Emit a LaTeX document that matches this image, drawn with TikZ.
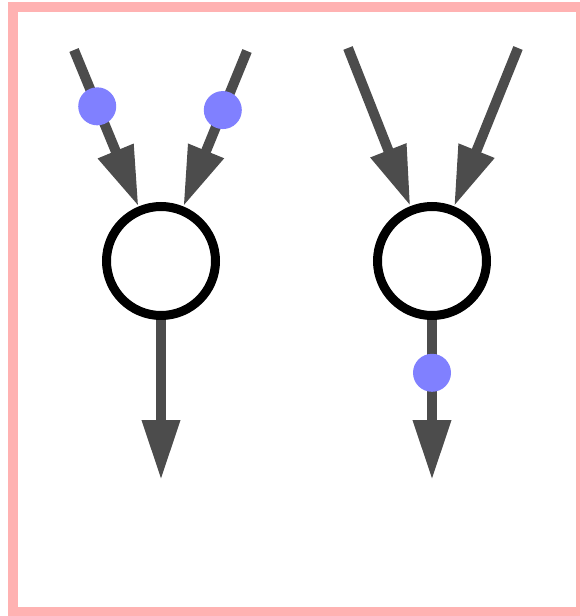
\documentclass[tikz,border=0pt]{standalone}
\usetikzlibrary{arrows.meta}

\begin{document}
\begin{tikzpicture}[x=1pt,y=-1pt]
\tikzset{
  opnode/.style={circle,draw=black,line width=9pt,minimum size=109pt,inner sep=0pt,fill=white},
  wire/.style={-{Triangle[length=60pt,width=36pt]},line width=10pt,draw=black!70},
  tokendot/.style={circle,fill=blue!50,minimum size=38pt,inner sep=0pt}
}
\useasboundingbox (0,0) rectangle (580,616);
\draw[red!30,line width=10pt] (13,7) rectangle (581,612);
\node[opnode] (n_L) at (161,261) {};
\node[opnode] (n_R) at (432,261) {};
\coordinate (in_L1) at (74,50);
\coordinate (in_L2) at (247,51);
\coordinate (in_R1) at (348,48);
\coordinate (in_R2) at (518,48);
\coordinate (out_L) at (161,480);
\coordinate (out_R) at (432,480);
\draw[wire] (in_L1) -- node[tokendot,pos=0.36] {} (n_L);
\draw[wire] (in_L2) -- node[tokendot,pos=0.38] {} (n_L);
\draw[wire] (in_R1) -- (n_R);
\draw[wire] (in_R2) -- (n_R);
\draw[wire] (n_L) -- (out_L);
\draw[wire] (n_R) -- node[tokendot,pos=0.33] {} (out_R);
\end{tikzpicture}
\end{document}
